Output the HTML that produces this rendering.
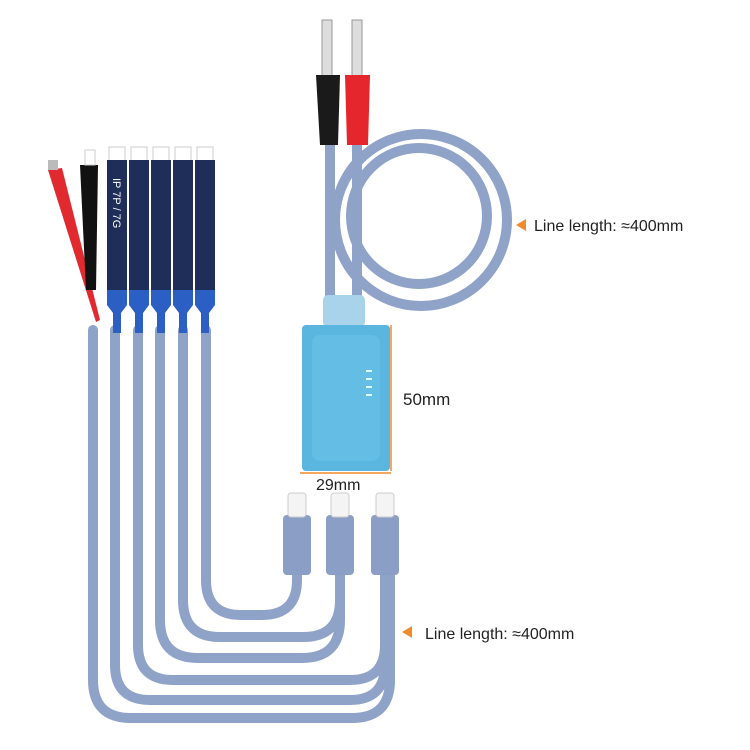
<!DOCTYPE html><html><head><style>body{margin:0;background:#fff}svg{display:block}text{font-family:"Liberation Sans",sans-serif;fill:#222}</style></head><body>
<svg width="750" height="750" viewBox="0 0 750 750">
<g fill="none" stroke="#8fa2c8" stroke-width="10" stroke-linecap="round">
<path d="M93 330 V680 Q93 718 131 718 H352 Q390 718 390 680 V570"/>
<path d="M115 330 V665 Q115 700 150 700 H350 Q385 700 385 665 V570"/>
<path d="M138 330 V645 Q138 680 173 680 H350 Q385 680 385 645 V570"/>
<path d="M160 330 V620 Q160 658 198 658 H302 Q340 658 340 620 V570"/>
<path d="M183 330 V600 Q183 637 220 637 H303 Q340 637 340 600 V570"/>
<path d="M206 330 V580 Q206 615 241 615 H262 Q297 615 297 580 V570"/>
<path d="M330 140 V300"/><path d="M357 140 V300"/>
<circle cx="421" cy="220" r="86"/>
<circle cx="419" cy="216" r="68"/>
</g>
<g fill="#8b9ec6"><rect x="283" y="515" width="28" height="60" rx="4"/><rect x="326" y="515" width="28" height="60" rx="4"/><rect x="371" y="515" width="28" height="60" rx="4"/></g>
<g fill="#f4f4f4" stroke="#ccc"><rect x="288" y="493" width="18" height="24" rx="3"/><rect x="331" y="493" width="18" height="24" rx="3"/><rect x="376" y="493" width="18" height="24" rx="3"/></g>
<rect x="323" y="295" width="42" height="32" rx="5" fill="#a9d3ea"/>
<rect x="302" y="325" width="88" height="146" rx="4" fill="#5ab5df"/>
<rect x="312" y="335" width="68" height="126" rx="8" fill="#63bde4"/>
<g fill="#dff" ><rect x="366" y="370" width="6" height="2"/><rect x="366" y="378" width="6" height="2"/><rect x="366" y="386" width="6" height="2"/><rect x="366" y="394" width="6" height="2"/></g>
<g stroke="#f08a2a" stroke-width="1.5"><path d="M391 325 V471"/><path d="M300 473 H391"/></g>
<rect x="322" y="20" width="10" height="58" fill="#ddd" stroke="#999"/>
<rect x="352" y="20" width="10" height="58" fill="#ddd" stroke="#999"/>
<path d="M316 75 H340 L338 145 H320 Z" fill="#1a1a1a"/>
<path d="M345 75 H370 L368 145 H347 Z" fill="#e5262d"/>
<path d="M48 170 L62 168 L100 320 L96 322 Z" fill="#e02a2f"/>
<path d="M48 160 h10 v10 h-10z" fill="#bbb"/>
<path d="M80 165 H98 L96 290 H86 Z" fill="#111"/>
<path d="M85 150 h10 v15 h-10z" fill="none" stroke="#ccc"/>
<g>
<g fill="#fff" stroke="#ccc"><rect x="109" y="147" width="16" height="14"/><rect x="131" y="147" width="16" height="14"/><rect x="153" y="147" width="16" height="14"/><rect x="175" y="147" width="16" height="14"/><rect x="197" y="147" width="16" height="14"/></g>
<g fill="#1e2e58"><rect x="107" y="160" width="20" height="130"/><rect x="129" y="160" width="20" height="130"/><rect x="151" y="160" width="20" height="130"/><rect x="173" y="160" width="20" height="130"/><rect x="195" y="160" width="20" height="130"/></g>
<g fill="#2c5fc4"><path d="M107 290 h20 v15 l-6 8 v20 h-8 v-20 l-6 -8z"/><path d="M129 290 h20 v15 l-6 8 v20 h-8 v-20 l-6 -8z"/><path d="M151 290 h20 v15 l-6 8 v20 h-8 v-20 l-6 -8z"/><path d="M173 290 h20 v15 l-6 8 v20 h-8 v-20 l-6 -8z"/><path d="M195 290 h20 v15 l-6 8 v20 h-8 v-20 l-6 -8z"/></g>
<text transform="translate(113,178) rotate(90)" style="fill:#fff;font-size:11px">IP 7P / 7G</text>
</g>
<path d="M516 225 l10 -6 v12z" fill="#f08a2a"/>
<text x="534" y="231" font-size="16">Line length: ≈400mm</text>
<path d="M402 632 l10 -6 v12z" fill="#f08a2a"/>
<text x="425" y="639" font-size="16">Line length: ≈400mm</text>
<text x="403" y="405" font-size="17">50mm</text>
<text x="316" y="490" font-size="16">29mm</text>
</svg></body></html>
